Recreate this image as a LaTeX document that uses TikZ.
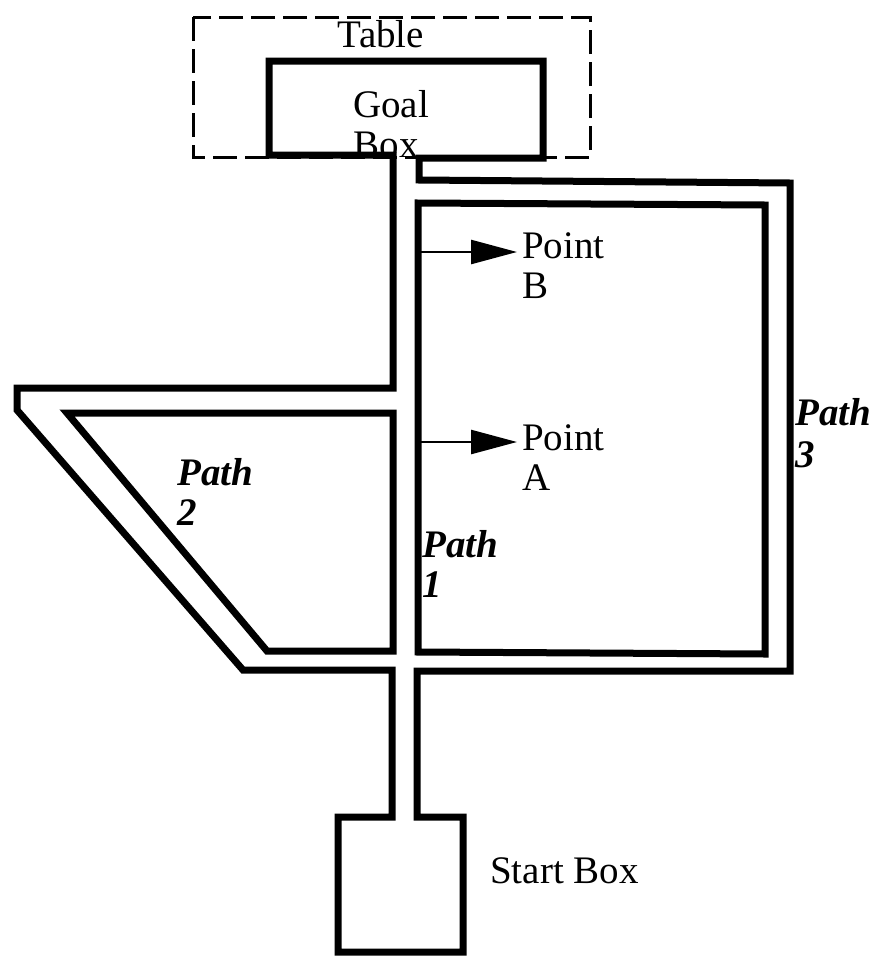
\documentclass[tikz,border=0pt]{standalone}
\usepackage{fontspec}
\setmainfont{Liberation Serif}
\usetikzlibrary{arrows.meta}
\begin{document}
\begin{tikzpicture}[x=1pt,y=-1pt,
  wall/.style={line width=7pt, line join=miter, line cap=rect},
  tablebox/.style={line width=3pt, dash pattern=on 24pt off 8pt},
  pointer/.style={line width=2.5pt, -{Triangle[length=46pt,width=24pt]}, shorten >=5pt},
  lbl/.style={inner sep=0pt, font=\fontsize{39}{40}\selectfont},
  pathlbl/.style={lbl, font=\fontsize{39}{40}\selectfont\bfseries\itshape}]
\useasboundingbox (0,0) rectangle (875,956);
% table (dashed)
\draw[tablebox] (193,17) rectangle (590,157);
% outer wall: goal box, corridors, path 2, path 3 and start box
\draw[wall] (393,388) -- (393,155) -- (269,155) -- (269,61) -- (543,61) -- (543,158)
  -- (419,158) -- (419,180) -- (790,183) -- (790,671) -- (417,671) -- (417,817)
  -- (463,817) -- (463,952) -- (338,952) -- (338,817) -- (392,817) -- (392,670)
  -- (243,670) -- (17,410) -- (17,388) -- cycle;
% inner walls
\draw[wall] (393,413) -- (67,413) -- (267,651) -- (393,651) -- cycle;
\draw[wall] (418,203) -- (765,205) -- (765,654) -- (418,652) -- cycle;
% texts
\node[lbl, anchor=base] (table) at (381,47) {Table};
\node[lbl, anchor=base] (goal) at (391,117) {Goal};
\node[lbl, anchor=base] (box) at (386,157) {Box};
\node[lbl, anchor=base west] (pointB) at (522,258) {Point};
\node[lbl, anchor=base west] (letterB) at (522,298) {B};
\node[lbl, anchor=base west] (pointA) at (522,450) {Point};
\node[lbl, anchor=base west] (letterA) at (522,490) {A};
\node[pathlbl, anchor=base west] (path2) at (177,485) {Path};
\node[pathlbl, anchor=base west] (num2) at (177,525) {2};
\node[pathlbl, anchor=base west] (path1) at (422,557) {Path};
\node[pathlbl, anchor=base west] (num1) at (422,597) {1};
\node[pathlbl, anchor=base west] (path3) at (795,425) {Path};
\node[pathlbl, anchor=base west] (num3) at (795,467) {3};
\node[lbl, anchor=base west] (start) at (490,883) {Start Box};
% pointers
\coordinate (sB) at (421,252);
\coordinate (sA) at (421,442);
\draw[pointer] (sB) -- (sB -| pointB.west);
\draw[pointer] (sA) -- (sA -| pointA.west);
\end{tikzpicture}
\end{document}
